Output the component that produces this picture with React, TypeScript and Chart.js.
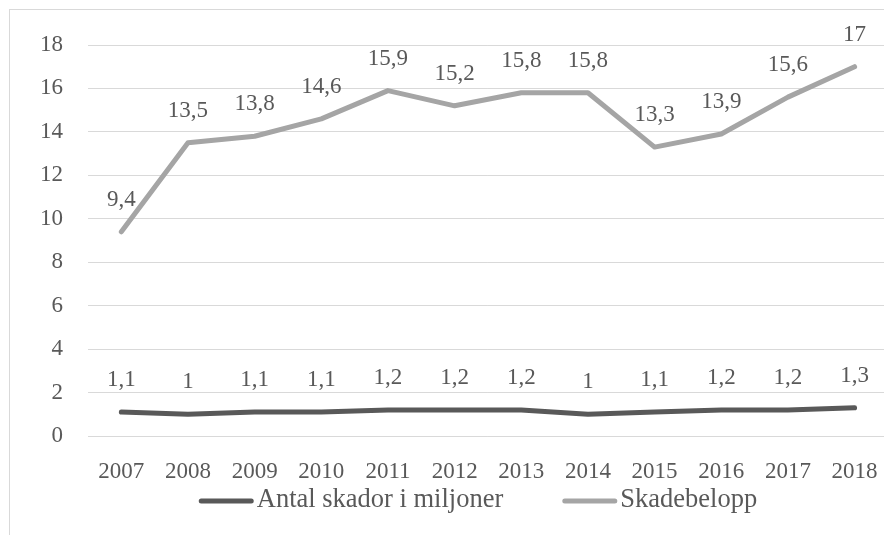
import { useEffect, useRef } from "react";
import { Chart, registerables } from "chart.js";

Chart.register(...registerables);

// Years on the category axis
const years = ["2007", "2008", "2009", "2010", "2011", "2012", "2013", "2014", "2015", "2016", "2017", "2018"];

// Number of claims, in millions
const antalSkador = [1.1, 1, 1.1, 1.1, 1.2, 1.2, 1.2, 1, 1.1, 1.2, 1.2, 1.3];

// Claim amounts
const skadebelopp = [9.4, 13.5, 13.8, 14.6, 15.9, 15.2, 15.8, 15.8, 13.3, 13.9, 15.6, 17];

// Value axis range
const yMin = 0;
const yMax = 18;
const yStep = 2;

const FONT = "'Liberation Serif', 'Times New Roman', serif";
const TEXT = "#595959";

const fmt = (v: number) => String(v).replace(".", ",");

// Writes each point's value above it
const valueLabels = {
  id: "valueLabels",
  afterDatasetsDraw(chart: any) {
    const ctx = chart.ctx;
    ctx.save();
    ctx.font = `23px ${FONT}`;
    ctx.fillStyle = TEXT;
    ctx.textAlign = "center";
    ctx.textBaseline = "middle";
    chart.data.datasets.forEach((ds: any, i: number) => {
      const meta = chart.getDatasetMeta(i);
      meta.data.forEach((pt: any, j: number) => {
        ctx.fillText(fmt(ds.data[j]), pt.x, pt.y - 32);
      });
    });
    ctx.restore();
  },
};

// Line-sample legend under the axis
const lineLegend = {
  id: "lineLegend",
  afterDraw(chart: any) {
    const ctx = chart.ctx;
    const lineLen = 55;
    const textGap = 3;
    const itemGap = 59;
    const y = 501;
    ctx.save();
    ctx.font = `26.5px ${FONT}`;
    const items = chart.data.datasets.map((ds: any) => ({
      label: ds.label,
      color: ds.borderColor,
      w: ctx.measureText(ds.label).width,
    }));
    const total =
      items.reduce((s: number, it: any) => s + lineLen + textGap + it.w, 0) +
      itemGap * (items.length - 1);
    const center = (chart.chartArea.left + chart.chartArea.right) / 2 - 10;
    let x = center - total / 2;
    items.forEach((it: any) => {
      ctx.strokeStyle = it.color;
      ctx.lineWidth = 5;
      ctx.lineCap = "round";
      ctx.beginPath();
      ctx.moveTo(x + 2.5, y);
      ctx.lineTo(x + lineLen - 2.5, y);
      ctx.stroke();
      ctx.fillStyle = TEXT;
      ctx.textAlign = "left";
      ctx.textBaseline = "middle";
      ctx.fillText(it.label, x + lineLen + textGap, y - 1);
      x += lineLen + textGap + it.w + itemGap;
    });
    ctx.restore();
  },
};

export default function App() {
  const canvasRef = useRef<HTMLCanvasElement | null>(null);

  useEffect(() => {
    document.body.style.overflow = "hidden";
    const canvas = canvasRef.current;
    if (!canvas) return;
    const chart = new Chart(canvas, {
      type: "line",
      data: {
        labels: years,
        datasets: [
          {
            label: "Antal skador i miljoner",
            data: antalSkador,
            borderColor: "#595959",
            backgroundColor: "#595959",
            borderWidth: 5,
            pointRadius: 0,
            borderCapStyle: "round",
            borderJoinStyle: "round",
            tension: 0,
          },
          {
            label: "Skadebelopp",
            data: skadebelopp,
            borderColor: "#a5a5a5",
            backgroundColor: "#a5a5a5",
            borderWidth: 5,
            pointRadius: 0,
            borderCapStyle: "round",
            borderJoinStyle: "round",
            tension: 0,
          },
        ],
      },
      options: {
        animation: false,
        responsive: false,
        devicePixelRatio: 1,
        layout: { padding: { left: 0, right: 9.5, top: 45, bottom: 49 } },
        plugins: {
          legend: { display: false },
          tooltip: { enabled: false },
        },
        scales: {
          x: {
            offset: true,
            grid: { display: false, drawTicks: false },
            border: { display: false },
            ticks: {
              color: TEXT,
              font: { family: FONT, size: 23 },
              padding: 22,
              maxRotation: 0,
              autoSkip: false,
            },
            afterFit(scale: any) {
              scale.height = 50;
            },
          },
          y: {
            min: yMin,
            max: yMax,
            grid: { color: "#d9d9d9", lineWidth: 1, drawTicks: false },
            border: { display: false },
            ticks: {
              stepSize: yStep,
              color: TEXT,
              font: { family: FONT, size: 23 },
              padding: 25,
            },
            afterFit(scale: any) {
              scale.width = 88;
            },
          },
        },
      },
      plugins: [valueLabels, lineLegend],
    });
    return () => chart.destroy();
  }, []);

  return (
    <>
      <div
        style={{
          position: "absolute",
          left: 9,
          top: 9,
          width: 1000,
          height: 1000,
          border: "1px solid #d9d9d9",
          boxSizing: "border-box",
        }}
      />
      <canvas
        ref={canvasRef}
        width={900}
        height={535}
        style={{ position: "absolute", left: 0, top: 0, width: 900, height: 535 }}
      />
    </>
  );
}
